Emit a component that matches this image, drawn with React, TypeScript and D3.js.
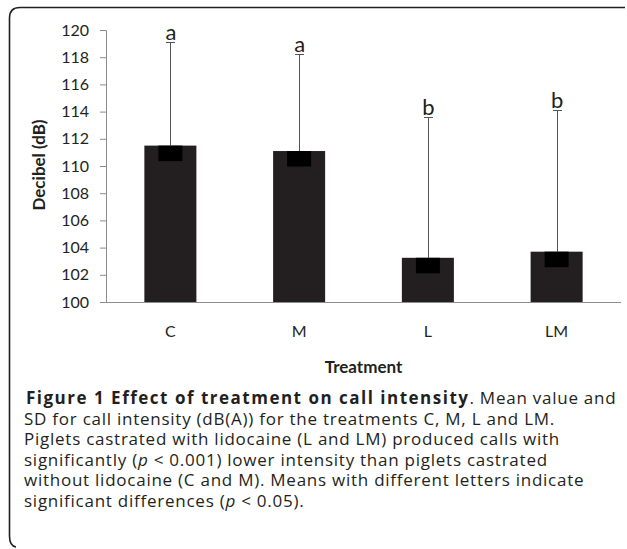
import React, { useEffect, useRef } from 'react';
import * as d3 from 'd3';

const categories = ['C', 'M', 'L', 'LM'];
const means = [111.5, 111.1, 103.25, 103.7];
const sds = [7.6, 7.1, 10.35, 10.4];
const letters = ['a', 'a', 'b', 'b'];
const yTicks = [100, 102, 104, 106, 108, 110, 112, 114, 116, 118, 120];

// caption lines: [text, weight, style]
const captionLines: [string, string?, string?][][] = [
  [['Figure 1 Effect of treatment on call intensity', 'bold'], ['. Mean value and']],
  [['SD for call intensity (dB(A)) for the treatments C, M, L and LM.']],
  [['Piglets castrated with lidocaine (L and LM) produced calls with']],
  [['significantly ('], ['p', 'normal', 'italic'], [' < 0.001) lower intensity than piglets castrated']],
  [['without lidocaine (C and M). Means with different letters indicate']],
  [['significant differences ('], ['p', 'normal', 'italic'], [' < 0.05).']],
];

const W = 627;
const H = 549;
const chartFont = 'Lato, "Open Sans", sans-serif';
const captionFont = '"Open Sans", sans-serif';

const App = () => {
  const ref = useRef<SVGSVGElement>(null);

  useEffect(() => {
    const svg = d3.select(ref.current);
    svg.selectAll('*').remove();

    const x = d3.scaleBand().domain(categories).range([106, 621]).paddingInner(0.596).paddingOuter(0.298);
    const y = d3.scaleLinear().domain([100, 120]).range([302, 30]);

    // frame
    svg
      .append('path')
      .attr('d', 'M625,7.5 H20 Q9.5,7.5 9.5,18 V536 Q9.5,546 16,547')
      .attr('fill', 'none')
      .attr('stroke', '#231f20')
      .attr('stroke-width', 1.6);

    // y axis
    const yAxis = svg
      .append('g')
      .attr('transform', 'translate(106,0)')
      .call(d3.axisLeft(y).tickValues(yTicks).tickSize(6).tickPadding(11).tickFormat(d3.format('d')));
    yAxis.select('.domain').attr('stroke', '#8c8c8c').attr('d', 'M-6,30.5 H0.5 V302');
    yAxis.selectAll('.tick line').attr('stroke', '#8c8c8c');
    yAxis
      .selectAll('.tick text')
      .attr('fill', '#231f20')
      .attr('font-family', chartFont)
      .attr('font-size', 16);

    const i = d3.range(categories.length);
    const bw = x.bandwidth();
    const cx = (k: number) => x(categories[k])! + bw / 2;

    // bars
    svg
      .append('g')
      .selectAll('rect')
      .data(i)
      .join('rect')
      .attr('x', (k) => x(categories[k])!)
      .attr('y', (k) => y(means[k]))
      .attr('width', bw)
      .attr('height', (k) => y(100) - y(means[k]))
      .attr('fill', '#231f20');

    // x axis line
    svg
      .append('line')
      .attr('x1', 106)
      .attr('x2', 621)
      .attr('y1', y(100) + 0.5)
      .attr('y2', y(100) + 0.5)
      .attr('stroke', '#8c8c8c');

    // error bars
    const err = svg.append('g').attr('stroke', '#555').attr('stroke-width', 1);
    err
      .selectAll('line.v')
      .data(i)
      .join('line')
      .attr('class', 'v')
      .attr('x1', (k) => Math.round(cx(k)) + 0.5)
      .attr('x2', (k) => Math.round(cx(k)) + 0.5)
      .attr('y1', (k) => y(means[k]))
      .attr('y2', (k) => y(means[k] + sds[k]));
    err
      .selectAll('line.cap')
      .data(i)
      .join('line')
      .attr('class', 'cap')
      .attr('x1', (k) => Math.round(cx(k)) - 4)
      .attr('x2', (k) => Math.round(cx(k)) + 5)
      .attr('y1', (k) => Math.round(y(means[k] + sds[k])) + 0.5)
      .attr('y2', (k) => Math.round(y(means[k] + sds[k])) + 0.5);

    // black markers at bar tops
    svg
      .append('g')
      .selectAll('rect')
      .data(i)
      .join('rect')
      .attr('x', (k) => cx(k) - 12)
      .attr('y', (k) => y(means[k]))
      .attr('width', 24)
      .attr('height', 15.5)
      .attr('fill', '#000');

    // significance letters
    svg
      .append('g')
      .selectAll('text')
      .data(i)
      .join('text')
      .attr('x', (k) => cx(k) + 0.5)
      .attr('y', (k) => y(means[k] + sds[k]) - 2.5)
      .attr('text-anchor', 'middle')
      .attr('font-family', chartFont)
      .attr('font-size', 22)
      .attr('fill', '#231f20')
      .text((k) => letters[k]);

    // category labels
    svg
      .append('g')
      .selectAll('text')
      .data(i)
      .join('text')
      .attr('x', (k) => cx(k))
      .attr('y', 336.5)
      .attr('text-anchor', 'middle')
      .attr('font-family', chartFont)
      .attr('font-size', 16)
      .attr('fill', '#231f20')
      .text((k) => categories[k]);

    // axis titles
    svg
      .append('text')
      .attr('x', 363.5)
      .attr('y', 372.5)
      .attr('text-anchor', 'middle')
      .attr('font-family', chartFont)
      .attr('font-weight', 'bold')
      .attr('font-size', 17)
      .attr('fill', '#231f20')
      .text('Treatment');
    svg
      .append('text')
      .attr('transform', 'translate(44.5,165) rotate(-90)')
      .attr('text-anchor', 'middle')
      .attr('font-family', chartFont)
      .attr('font-weight', 'bold')
      .attr('font-size', 17)
      .attr('fill', '#231f20')
      .text('Decibel (dB)');

    // caption
    const cap = svg
      .append('g')
      .attr('font-family', captionFont)
      .attr('font-size', 17)
      .attr('fill', '#231f20');
    captionLines.forEach((segs, li) => {
      const t = cap
        .append('text')
        .attr('x', li === 0 ? 26 : 24)
        .attr('y', 404 + li * 20.6);
      segs.forEach(([s, w, st]) => {
        t.append('tspan')
          .attr('font-weight', w || 'normal')
          .attr('font-style', st || 'normal')
          .attr('letter-spacing', w === 'bold' ? 1.5 : 0.75)
          .text(s);
      });
    });
  }, []);

  return (
    <svg
      ref={ref}
      width={W}
      height={H}
      style={{ position: 'absolute', left: 0, top: 0, background: '#fff' }}
    />
  );
};

export default App;
